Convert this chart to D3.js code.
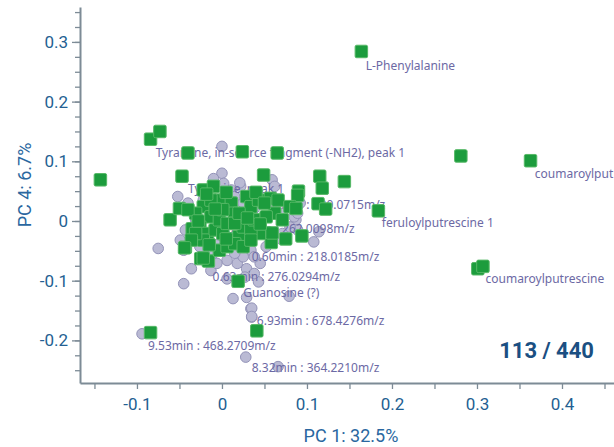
<!DOCTYPE html>
<html>
<head>
<meta charset="utf-8">
<script src="https://cdn.jsdelivr.net/npm/d3@7"></script>
<style>
  body { margin: 0; background: #fff; }
  svg { display: block; }
</style>
</head>
<body>
<svg id="chart" width="614" height="447"></svg>
<script>
// the data
// selected features (green squares), [PC1, PC4]
const selectedPoints = [
  [0.164, 0.284], [-0.143, 0.069], [-0.084, 0.137], [-0.073, 0.150],
  [-0.040, 0.114], [0.024, 0.116], [0.065, 0.114], [0.281, 0.109],
  [0.363, 0.101], [-0.047, 0.075], [0.049, 0.077], [0.115, 0.075],
  [0.118, 0.055], [0.144, 0.066], [0.090, 0.050], [0.089, 0.043],
  [0.184, 0.017], [0.113, 0.029], [0.122, 0.020], [0.301, -0.080],
  [0.307, -0.076], [-0.084, -0.187], [0.041, -0.184], [0.019, -0.101],
  [-0.025, -0.063], [-0.016, -0.067], [-0.043, -0.044], [-0.061, 0.002],
  [-0.050, 0.021], [-0.035, -0.013], [0.094, -0.025], [0.075, -0.030],
  [0.058, -0.036], [0.044, -0.021], [0.059, -0.020],
  [-0.022, 0.052], [-0.010, 0.058], [-0.003, 0.035], [0.011, 0.030],
  [0.015, 0.013], [0.029, 0.041], [0.034, 0.024], [0.043, 0.035],
  [0.057, 0.038], [0.062, 0.013], [0.066, 0.035], [0.080, 0.024],
  [0.087, 0.021], [-0.022, 0.024], [-0.013, 0.007], [-0.031, 0.013],
  [-0.040, 0.019], [-0.026, -0.010], [-0.017, -0.021], [-0.008, -0.015],
  [0.001, -0.021], [0.011, -0.032], [0.020, -0.026], [0.025, -0.010],
  [0.034, -0.015], [0.038, 0.002], [-0.003, -0.049], [0.006, -0.043],
  [0.015, -0.038], [-0.022, -0.032], [-0.031, -0.021], [-0.036, -0.032],
  [0.025, -0.043], [0.034, -0.032], [0.052, 0.007], [0.071, 0.002],
  [-0.003, 0.002], [0.006, -0.004], [0.015, -0.004], [-0.013, 0.035],
  [0.001, 0.019], [0.020, 0.013], [-0.044, -0.045], [-0.022, -0.062],
  [-0.018, 0.045], [0.005, 0.048], [0.040, 0.048], [0.050, 0.030],
  [-0.008, 0.020], [0.030, 0.005], [-0.015, -0.040], [0.005, -0.030],
  [0.045, -0.005], [-0.028, 0.000]
];

// remaining features (grey circles), [PC1, PC4]
const otherPoints = [
  [0.000, 0.125], [0.000, 0.080], [-0.010, 0.071], [0.002, 0.063],
  [0.022, 0.058], [-0.052, 0.041], [0.059, 0.069], [0.062, 0.058],
  [0.021, 0.064], [0.092, 0.030], [0.087, 0.002], [0.108, -0.035],
  [0.114, -0.018], [0.089, -0.015], [-0.075, -0.046], [-0.045, -0.105],
  [-0.036, -0.080], [-0.013, -0.083], [0.018, -0.071], [0.029, -0.080],
  [0.034, -0.049], [0.045, -0.071], [0.043, -0.102], [0.006, -0.097],
  [0.013, -0.130], [0.029, -0.128], [0.034, -0.147], [0.035, -0.161],
  [0.079, -0.126], [-0.094, -0.189], [0.028, -0.228], [0.066, -0.244],
  [-0.006, -0.040], [0.025, -0.060], [0.052, -0.043], [-0.045, -0.049],
  [-0.026, -0.043], [-0.017, -0.057], [0.006, -0.066], [0.038, -0.060],
  [0.057, -0.021], [0.062, -0.032], [0.038, 0.021], [0.011, 0.052],
  [0.015, 0.041], [-0.022, 0.035], [-0.040, 0.030], [-0.031, 0.002],
  [0.085, 0.007], [0.080, -0.010], [0.071, -0.021], [-0.010, -0.054],
  [0.015, -0.054], [0.027, -0.094], [0.038, -0.088], [-0.006, -0.071],
  [-0.026, -0.060], [-0.049, -0.032], [-0.043, -0.015], [0.043, 0.035],
  [0.025, 0.030], [0.062, 0.030], [0.071, 0.013], [0.089, 0.013],
  [0.035, -0.146], [0.035, -0.160]
];

// annotation labels and where they start (data units)
const labelTexts = [
  "L-Phenylalanine",
  "Tyramine, in-source fragment (-NH2), peak 1",
  "Tyramine, peak 1",
  "0.60min : 380.0715m/z",
  "0.60min : 262.0098m/z",
  "feruloylputrescine 1",
  "0.60min : 218.0185m/z",
  "0.63min : 276.0294m/z",
  "Guanosine (?)",
  "6.93min : 678.4276m/z",
  "9.53min : 468.2709m/z",
  "8.32min : 364.2210m/z",
  "coumaroylputrescine",
  "coumaroylput"
];
const labelX = [0.169, -0.078, -0.040, 0.042, 0.006, 0.188, 0.035, -0.011, 0.025, 0.041, -0.087, 0.035, 0.310, 0.368];
const labelY = [0.253, 0.107, 0.047, 0.020, -0.020, -0.010, -0.067, -0.100, -0.127, -0.174, -0.216, -0.253, -0.104, 0.072];

// ticks
const xMinorTicks = [-0.15, -0.1, -0.05, 0, 0.05, 0.1, 0.15, 0.2, 0.25, 0.3, 0.35, 0.4, 0.45, 0.5];
const xLabelTicks = [-0.1, 0, 0.1, 0.2, 0.3, 0.4];
const yMinorTicks = [-0.25, -0.225, -0.2, -0.175, -0.15, -0.125, -0.1, -0.075, -0.05, -0.025, 0,
  0.025, 0.05, 0.075, 0.1, 0.125, 0.15, 0.175, 0.2, 0.225, 0.25, 0.275, 0.3, 0.325, 0.35];
const yLabelTicks = [-0.2, -0.1, 0, 0.1, 0.2, 0.3];

const xTitle = "PC 1: 32.5%";
const yTitle = "PC 4: 6.7%";
const countText = "113 / 440";

// The svg
let svg = d3.select("#chart");

let x = d3.scaleLinear().domain([-0.167, 0.5]).range([80, 647]);
let y = d3.scaleLinear().domain([-0.2714, 0.3585]).range([383, 7]);

const axisColor = "#7d8b96";
const tickTextColor = "#245f92";
const labelColor = "#6c69a4";
const fmt = d => d === 0 ? "0" : String(d);

// x axis: minor ticks, then labelled ticks
let gx = svg.append("g").attr("transform", "translate(0,383)");
gx.call(d3.axisBottom(x).tickValues(xMinorTicks).tickSize(6).tickSizeOuter(0).tickFormat(""));
gx.append("g")
  .call(d3.axisBottom(x).tickValues(xLabelTicks).tickSize(0).tickPadding(15).tickFormat(fmt))
  .call(g => g.select(".domain").remove());

// y axis
let gy = svg.append("g").attr("transform", "translate(80,0)");
gy.call(d3.axisLeft(y).tickValues(yMinorTicks).tickSize(5).tickSizeOuter(0).tickFormat(""));
gy.append("g")
  .call(d3.axisLeft(y).tickValues(yLabelTicks).tickSize(8).tickPadding(4).tickFormat(fmt))
  .call(g => g.select(".domain").remove());

svg.selectAll(".domain").attr("stroke", axisColor).attr("stroke-width", 2);
svg.selectAll(".tick line").attr("stroke", axisColor).attr("stroke-width", 1.3);
svg.selectAll(".tick text")
  .attr("fill", tickTextColor)
  .attr("font-family", "Roboto, sans-serif")
  .attr("font-size", 17);

// axis titles
svg.append("text")
  .attr("x", 351).attr("y", 442)
  .attr("text-anchor", "middle")
  .attr("font-family", "Roboto, sans-serif").attr("font-size", 18)
  .attr("fill", "#2a67a0")
  .text(xTitle);

svg.append("text")
  .attr("transform", "translate(31,185) rotate(-90)")
  .attr("text-anchor", "middle")
  .attr("font-family", "Roboto, sans-serif").attr("font-size", 18)
  .attr("fill", "#2a67a0")
  .text(yTitle);

// grey points
svg.append("g")
  .selectAll("circle")
  .data(otherPoints)
  .enter()
  .append("circle")
  .attr("cx", d => x(d[0]))
  .attr("cy", d => y(d[1]))
  .attr("r", 5.3)
  .attr("fill", "#babad4")
  .attr("stroke", "#9393b8")
  .attr("stroke-width", 1);

// labels
svg.append("g")
  .selectAll("text")
  .data(labelTexts)
  .enter()
  .append("text")
  .attr("x", (d, i) => x(labelX[i]))
  .attr("y", (d, i) => y(labelY[i]))
  .attr("font-family", "'Noto Sans', sans-serif")
  .attr("font-size", 12)
  .attr("fill", labelColor)
  .text(d => d);

// green squares
const s = 12.5;
svg.append("g")
  .selectAll("rect")
  .data(selectedPoints)
  .enter()
  .append("rect")
  .attr("x", d => x(d[0]) - s / 2)
  .attr("y", d => y(d[1]) - s / 2)
  .attr("width", s)
  .attr("height", s)
  .attr("rx", 1.5)
  .attr("fill", "#1c9c3d")
  .attr("stroke", "#56b866")
  .attr("stroke-width", 1);

// count
svg.append("text")
  .attr("x", 594).attr("y", 358)
  .attr("text-anchor", "end")
  .attr("font-family", "Roboto, sans-serif").attr("font-size", 22).attr("font-weight", 700)
  .attr("fill", "#1b4f82")
  .text(countText);
</script>
</body>
</html>
